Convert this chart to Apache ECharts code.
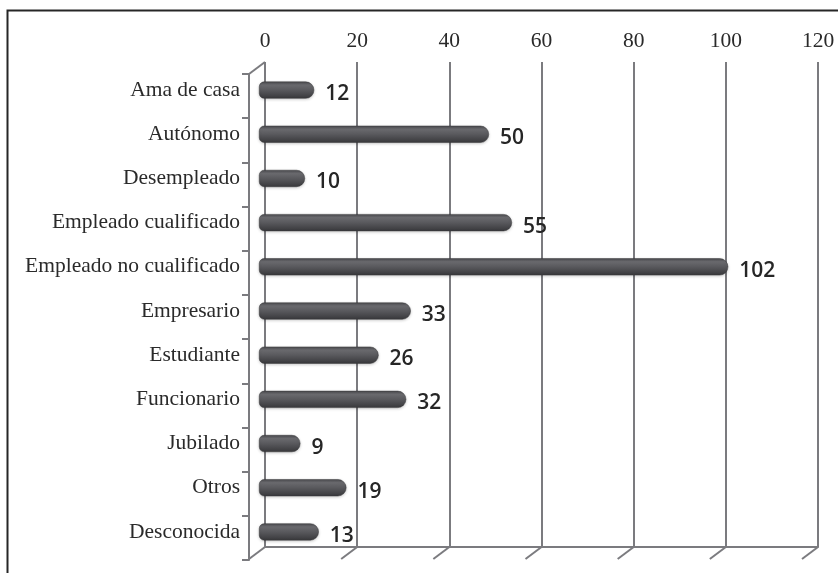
<!DOCTYPE html>
<html>
<head>
<meta charset="utf-8">
<script src="https://cdn.jsdelivr.net/npm/echarts@6/dist/echarts.min.js"></script>
<style>
  html, body { margin: 0; padding: 0; background: #fff; }
  #chart { width: 838px; height: 573px; }
</style>
</head>
<body>
<div id="chart"></div>
<script>
// Occupation categories and counts
const categories = [
  'Ama de casa', 'Autónomo', 'Desempleado', 'Empleado cualificado',
  'Empleado no cualificado', 'Empresario', 'Estudiante', 'Funcionario',
  'Jubilado', 'Otros', 'Desconocida'
];
const counts = [12, 50, 10, 55, 102, 33, 26, 32, 9, 19, 13];
const axisTicks = [0, 20, 40, 60, 80, 100, 120];
const axisMax = 120;
const axisStep = 20;

const gridGray = '#7b7b7f';
const depth = { dx: -16, dy: 12 };   // perspective offset from back wall to front

const chart = echarts.init(document.getElementById('chart'), null, { renderer: 'canvas' });

const option = {
  backgroundColor: '#ffffff',
  animation: false,
  grid: [
    // back wall with value scale and gridlines
    { left: 265, right: 20, top: 62, bottom: 26 },
    // front/left wall
    { left: 249, right: 36, top: 74, bottom: 13 },
    // bars in the middle depth
    { left: 259, right: 27, top: 68, bottom: 19 }
  ],
  xAxis: [
    {
      gridIndex: 0, type: 'value', position: 'top', min: 0, max: axisMax, interval: axisStep,
      axisLine: { show: true, lineStyle: { color: gridGray, width: 2 } },
      axisTick: { show: true, length: 7, lineStyle: { color: gridGray, width: 2 } },
      splitLine: { show: true, lineStyle: { color: gridGray, width: 2 } },
      axisLabel: {
        margin: 10, color: '#2a2a2a', fontFamily: 'Liberation Serif', fontSize: 21.5
      }
    },
    { gridIndex: 1, type: 'value', min: 0, max: axisMax, show: false },
    { gridIndex: 2, type: 'value', min: 0, max: axisMax, show: false }
  ],
  yAxis: [
    { gridIndex: 0, type: 'value', min: 0, max: 1, show: false },
    {
      gridIndex: 1, type: 'category', inverse: true, data: categories,
      axisLine: { show: true, lineStyle: { color: gridGray, width: 2 } },
      axisTick: { show: true, length: 7, lineStyle: { color: gridGray, width: 2 } },
      axisLabel: { show: false },
      splitLine: { show: false }
    },
    {
      gridIndex: 2, type: 'category', inverse: true, data: categories,
      axisLine: { show: false }, axisTick: { show: false },
      axisLabel: {
        margin: 19, color: '#2a2a2a', fontFamily: 'Liberation Serif', fontSize: 21.5
      }
    }
  ],
  series: [
    {
      // floor edges running from the back wall to the front
      type: 'custom',
      xAxisIndex: 0, yAxisIndex: 0,
      silent: true,
      data: axisTicks.map(v => [v]),
      renderItem: function (params, api) {
        const cs = params.coordSys;
        const x = api.coord([api.value(0), 0])[0];
        const by = cs.y + cs.height;
        const style = { stroke: gridGray, lineWidth: 2 };
        const children = [{
          type: 'line',
          shape: { x1: x, y1: by, x2: x + depth.dx, y2: by + depth.dy },
          style: style
        }];
        if (api.value(0) === 0) {
          children.push({
            type: 'line',
            shape: { x1: x, y1: cs.y, x2: x + depth.dx, y2: cs.y + depth.dy },
            style: style
          });
        }
        return { type: 'group', children: children };
      }
    },
    {
      type: 'bar',
      xAxisIndex: 2, yAxisIndex: 2,
      data: counts,
      barWidth: 17,
      itemStyle: {
        borderRadius: [5, 9, 9, 5],
        borderColor: '#38383b',
        borderWidth: 0.5,
        color: new echarts.graphic.LinearGradient(0, 0, 0, 1, [
          { offset: 0, color: '#4a4a4e' },
          { offset: 0.2, color: '#6a6a6e' },
          { offset: 0.5, color: '#59595d' },
          { offset: 1, color: '#38383b' }
        ]),
        shadowColor: 'rgba(0,0,0,0.2)',
        shadowBlur: 3,
        shadowOffsetY: 1
      },
      label: {
        show: true,
        position: 'right',
        distance: 11,
        offset: [0, 4],
        color: '#262626',
        fontFamily: 'Open Sans',
        fontWeight: 600,
        fontSize: 21
      }
    }
  ],
  graphic: [
    {
      type: 'polyline',
      silent: true,
      shape: { points: [[7.5, 573], [7.5, 10.5], [838, 10.5]] },
      style: { stroke: '#262626', lineWidth: 2, fill: null }
    }
  ]
};

chart.setOption(option);
</script>
</body>
</html>
